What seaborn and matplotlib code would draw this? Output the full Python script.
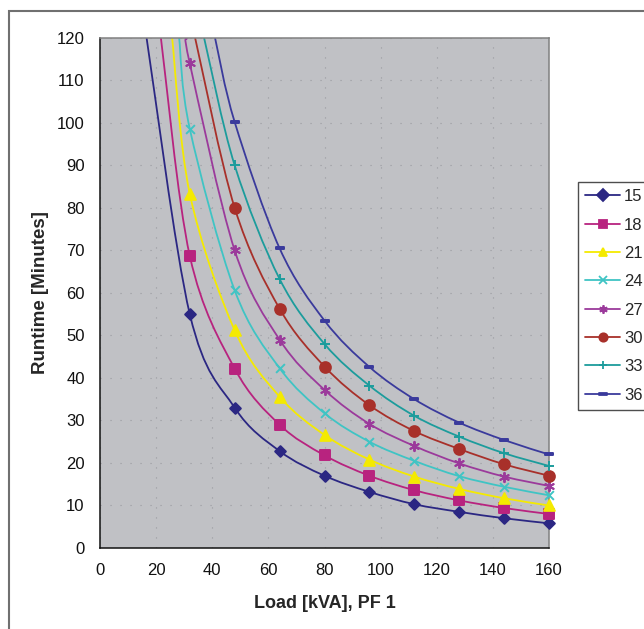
import numpy as np
import pandas as pd
import seaborn as sns
import matplotlib
matplotlib.use("Agg")
import matplotlib.pyplot as plt
from matplotlib.path import Path
from matplotlib.patches import PathPatch, Rectangle
from matplotlib.lines import Line2D

# load points [kVA] where the runtime was charted
load = [32, 48, 64, 80, 96, 112, 128, 144, 160]

# runtime [min]; values above 120 are outside the plotted range
rt_15 = [55.0, 33.0, 22.8, 17.0, 13.2, 10.3, 8.5, 7.0, 5.8]
rt_18 = [68.7, 42.2, 29.0, 21.8, 17.0, 13.6, 11.2, 9.4, 8.0]
rt_21 = [83.3, 51.2, 35.6, 26.6, 20.8, 16.8, 13.9, 11.7, 10.0]
rt_24 = [98.6, 60.6, 42.3, 31.7, 25.0, 20.5, 16.9, 14.4, 12.4]
rt_27 = [114.0, 70.0, 49.0, 37.2, 29.2, 24.0, 19.9, 16.8, 14.6]
rt_30 = [130.0, 80.0, 56.3, 42.7, 33.6, 27.5, 23.3, 19.7, 17.0]
rt_33 = [147.0, 90.0, 63.3, 48.0, 38.2, 31.1, 26.2, 22.3, 19.3]
rt_36 = [164.0, 100.2, 70.5, 53.5, 42.6, 35.0, 29.5, 25.4, 22.0]

# load at which each curve leaves the top of the chart (runtime 120)
top_load = [16.6, 21.7, 25.7, 28.2, 30.9, 33.9, 37.1, 41.0]

series_names = ["15", "18", "21", "24", "27", "30", "33", "36"]
series_vals = [rt_15, rt_18, rt_21, rt_24, rt_27, rt_30, rt_33, rt_36]

colors = ["#2b2783", "#b8237f", "#f4ea00", "#3fc4c4",
          "#9b3a9b", "#a8302a", "#1c9c9c", "#3a3a9c"]
bar = Path([(-1, -0.32), (1, -0.32), (1, 0.32), (-1, 0.32), (-1, -0.32)],
           [Path.MOVETO, Path.LINETO, Path.LINETO, Path.LINETO, Path.CLOSEPOLY])
markers = ["D", "s", "^", "x", (6, 2, 0), "o", "+", bar]
msizes = [30, 55, 60, 40, 45, 60, 45, 32]

sns.set_style("white")
plt.rcParams["font.family"] = ["Liberation Sans", "DejaVu Sans"]

fig = plt.figure(figsize=(6.44, 6.29), dpi=100)
ax = fig.add_axes([0.1553, 0.1288, 0.6972, 0.8108])
ax.set_facecolor("#c0c1c5")


def smooth_path(xs, ys):
    # catmull-rom -> cubic bezier, like excel's smoothed line
    pts = np.column_stack([xs, ys]).astype(float)
    n = len(pts)
    verts = [pts[0]]
    codes = [Path.MOVETO]
    for i in range(n - 1):
        p0 = pts[i - 1] if i > 0 else pts[i]
        p1, p2 = pts[i], pts[i + 1]
        p3 = pts[i + 2] if i + 2 < n else pts[i + 1]
        c1 = p1 + (p2 - p0) / 6
        c2 = p2 - (p3 - p1) / 6
        verts += [c1, c2, p2]
        codes += [Path.CURVE4] * 3
    return Path(verts, codes)


handles = []
for name, vals, x0, c, m, s in zip(series_names, series_vals, top_load,
                                   colors, markers, msizes):
    df = pd.DataFrame({"load": load, "runtime": vals})
    vis = df[df["runtime"] <= 120]
    xs = [x0] + vis["load"].tolist()
    ys = [120] + vis["runtime"].tolist()
    ax.add_patch(PathPatch(smooth_path(xs, ys), fill=False, edgecolor=c,
                           lw=1.3, zorder=2))
    sns.scatterplot(data=vis, x="load", y="runtime", marker=m, color=c, s=s,
                    edgecolor=c, linewidth=1.4, zorder=3, ax=ax, legend=False,
                    clip_on=False)
    handles.append(Line2D([], [], color=c, lw=1.3, marker=m, markersize=6,
                          markeredgecolor=c, markerfacecolor=c, mew=1.3))

ax.set_xlim(0, 160)
ax.set_ylim(0, 120)
ax.set_xticks(range(0, 161, 20))
ax.set_yticks(range(0, 121, 10))
ax.grid(True, color="#9a9ba0", linestyle=(0, (1, 8)), lw=0.8)
ax.set_axisbelow(True)
ax.tick_params(axis="both", direction="out", length=5, width=1,
               labelsize=12, colors="#111111", pad=6)
for side in ["left", "bottom"]:
    ax.spines[side].set_color("#111111")
    ax.spines[side].set_linewidth(1.1)
for side in ["top", "right"]:
    ax.spines[side].set_color("#808080")
    ax.spines[side].set_linewidth(1.1)

ax.set_xlabel("Load [kVA], PF 1", fontsize=13, fontweight="bold", labelpad=12)
ax.set_ylabel("Runtime [Minutes]", fontsize=13.5, fontweight="bold", labelpad=6)

leg = fig.legend(handles, series_names, loc="upper left",
                 bbox_to_anchor=(0.8975, 0.711), borderaxespad=0,
                 fontsize=12, frameon=True, fancybox=False, borderpad=0.45,
                 labelspacing=0.8, handlelength=2.1, handletextpad=0.2)
leg.get_frame().set_edgecolor("#222222")
leg.get_frame().set_linewidth(1.0)

# outer chart border
fig.patches.append(Rectangle((9 / 644, -0.1), 1.2, 1.1 - 11 / 629,
                             transform=fig.transFigure, fill=False,
                             edgecolor="#707070", lw=1.5))

fig.savefig("out.png", dpi=100)
